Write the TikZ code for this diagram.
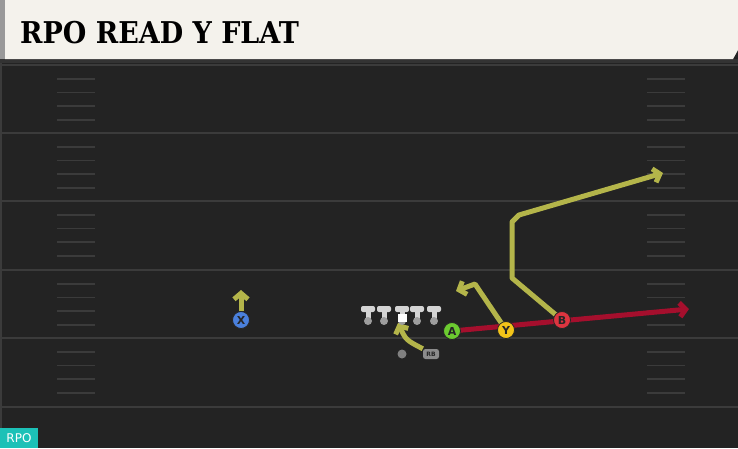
\documentclass[tikz,border=0pt]{standalone}
\usepackage{fontspec}
\usepackage{xcolor}
\usepackage{tikz}
\usetikzlibrary{arrows.meta,positioning}
\newfontfamily\titlefont{DejaVu Serif}
\newfontfamily\playerfont{DejaVu Sans}

\definecolor{fieldbg}{HTML}{232323}
\definecolor{yardline}{HTML}{3B3B3B}
\definecolor{headerbg}{HTML}{F4F2EC}
\definecolor{routegreen}{HTML}{B4B54A}
\definecolor{routered}{HTML}{A50F2D}
\definecolor{xblue}{HTML}{4A80DC}
\definecolor{agreen}{HTML}{6CCB30}
\definecolor{yyellow}{HTML}{F3C419}
\definecolor{bred}{HTML}{DD3540}
\definecolor{olgray}{HTML}{D4D4D4}
\definecolor{rpoteal}{HTML}{1CC1B7}

\pgfdeclarelayer{field}
\pgfdeclarelayer{routes}
\pgfsetlayers{field,routes,main}

\tikzset{
  player/.style={circle, draw=black!85, line width=0.8pt, minimum size=17pt, inner sep=0pt,
                 font=\playerfont\bfseries\fontsize{11}{11}\selectfont, text=black!85},
  route/.style={draw=routegreen, line width=5pt, line join=round,
                -{Straight Barb[length=6pt,width=14pt]}},
  redroute/.style={route, draw=routered},
  yardline/.style={draw=yardline, line width=2pt},
  hashmark/.style={draw=yardline, line width=1.8pt},
}

\begin{document}
\begin{tikzpicture}[x=1pt, y=-1pt]
    \useasboundingbox (0,0) rectangle (738,448);

    \begin{pgfonlayer}{field}
    \fill[fieldbg] (0,0) rectangle (738,448);
    \fill[black!80] (0,59) rectangle (738,63);
    \draw[yardline, line width=1.5pt] (0.75,63) -- (0.75,448);
    \foreach \yl in {65,133,201,270,338,407}
        \draw[yardline] (0,\yl) -- (738,\yl);
    \foreach \yl in {65,133,201,270,338}
        \foreach \k in {1,...,4} {
            \draw[hashmark] (57,{\yl+\k*13.7}) -- (95,{\yl+\k*13.7});
            \draw[hashmark] (647,{\yl+\k*13.7}) -- (685,{\yl+\k*13.7});
        }
    \fill[headerbg] (5,0) -- (738,0) -- (738,50) -- (733,59) -- (5,59) -- cycle;
    \fill[black!40] (0,0) rectangle (5,59);
    \end{pgfonlayer}

    \node (title) [anchor=base west, inner sep=0pt, font=\titlefont\bfseries\fontsize{30}{30}\selectfont]
        at (20,43) {\scalebox{0.9}[1]{RPO READ Y FLAT}};
    \node (rpo) [fill=rpoteal, text=white, minimum width=38pt, minimum height=20pt, inner sep=0pt,
        font=\playerfont\fontsize{12}{12}\selectfont] at (19,438) {RPO};

    % offensive line
    \foreach \n/\x in {lt/368,lg/384,c/402,rg/417,rt/434} {
        \fill[olgray, rounded corners=2pt] ({\x-7},306) rectangle ({\x+7},312);
        \fill[olgray] ({\x-2.5},311) rectangle ({\x+2.5},320);
        \node (\n) [circle, fill=black!38, minimum size=8pt, inner sep=0pt] at (\x,321) {};
    }
    \node (snap) [fill=white, minimum width=9pt, minimum height=8pt, inner sep=0pt] at (402,318) {};
    \node (qb) [circle, fill=black!50, minimum size=9pt, inner sep=0pt] at (402,354) {};
    \node (RB) [fill=black!45, rounded corners=2.5pt, minimum width=16pt, minimum height=10pt, inner sep=0pt,
        font=\playerfont\bfseries\fontsize{6}{6}\selectfont, text=black!85] at (431,354) {RB};

    \node (X) [player, fill=xblue] at (241,320) {X};
    \node (A) [player, fill=agreen] at (452,331) {A};
    \node (Y) [player, fill=yyellow] at (506,330) {Y};
    \node (B) [player, fill=bred] at (562,320) {B};

    \coordinate (xend) at (241,290);
    \coordinate (rbend) at (398,323);
    \coordinate (redend) at (689,309);
    \coordinate (y1) at (475,284);
    \coordinate (yend) at (456,291);
    \coordinate (b1) at (512,278);
    \coordinate (b2) at (512,222);
    \coordinate (b3) at (519,215);
    \coordinate (bend) at (663,173);

    \begin{pgfonlayer}{routes}
    \draw [redroute] (A.center) -- (redend);
    \draw [route] (X.north) -- (xend);
    \draw [route] (Y.center) -- (y1) -- (yend);
    \draw [route] (B.center) -- (b1) -- (b2) -- (b3) -- (bend);
    \draw [route] (RB.north west) .. controls (406,340) .. (rbend);
    \end{pgfonlayer}
\end{tikzpicture}
\end{document}
